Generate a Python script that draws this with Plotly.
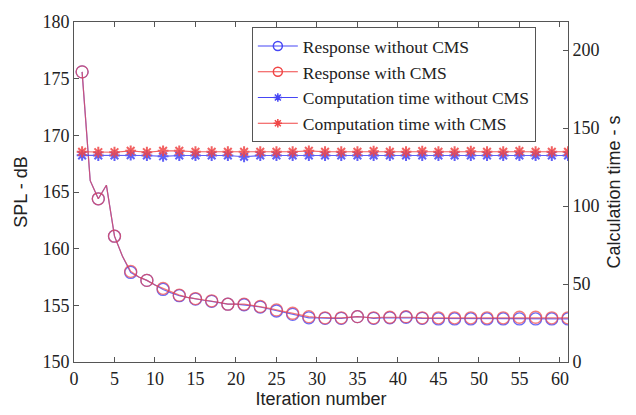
import plotly.graph_objects as go

# ---- data ----
iterations = list(range(1, 62))

spl_with_cms = [
    175.6, 166.0, 164.4, 165.6, 161.1, 159.3, 158.0, 157.5, 157.2, 156.8,
    156.5, 156.2, 155.9, 155.7, 155.6, 155.5, 155.4, 155.25, 155.1, 155.1,
    155.1, 155.0, 154.9, 154.75, 154.6, 154.45, 154.3, 154.15, 154.0, 153.95,
    153.9, 153.9, 153.9, 153.95, 154.0, 153.95, 153.9, 153.95, 153.95, 154.0,
    154.0, 153.95, 153.9, 153.9, 153.9, 153.9, 153.9, 153.9, 153.9, 153.9,
    153.9, 153.9, 153.9, 153.9, 153.95, 153.95, 153.95, 153.9, 153.9, 153.9,
    153.9,
]
spl_without_cms = [
    175.6, 166.0, 164.4, 165.6, 161.1, 159.3, 157.9, 157.5, 157.2, 156.8,
    156.4, 156.1, 155.85, 155.7, 155.55, 155.45, 155.35, 155.2, 155.1, 155.1,
    155.05, 154.95, 154.85, 154.7, 154.5, 154.35, 154.2, 154.05, 153.9, 153.9,
    153.85, 153.85, 153.85, 153.9, 154.0, 153.95, 153.85, 153.9, 153.9, 153.95,
    153.95, 153.9, 153.85, 153.85, 153.8, 153.8, 153.8, 153.8, 153.8, 153.8,
    153.8, 153.8, 153.8, 153.8, 153.8, 153.8, 153.8, 153.8, 153.8, 153.8,
    153.8,
]

time_iterations = list(range(1, 62, 2))
time_with_cms = [
    134.8, 134.5, 134.5, 135.4, 134.5, 135.4, 135.4, 134.8, 134.8, 134.8,
    134.8, 134.8, 134.8, 134.8, 135.4, 134.8, 134.8, 134.8, 135.2, 134.8,
    134.8, 135.2, 134.8, 134.8, 135.2, 134.8, 134.8, 135.2, 134.8, 134.8,
    134.8,
]
time_without_cms = [
    132.5, 132.4, 132.4, 132.6, 132.4, 131.9, 132.4, 132.4, 132.4, 132.4,
    131.6, 132.4, 132.4, 132.4, 132.4, 132.4, 132.4, 132.4, 132.4, 132.4,
    132.4, 132.4, 132.4, 132.4, 132.4, 132.4, 132.4, 132.4, 132.4, 132.4,
    132.4,
]

x_ticks = list(range(0, 61, 5))
y_ticks = list(range(150, 181, 5))
y2_ticks = list(range(0, 201, 50))

BLUE = "rgb(70,70,245)"
RED = "rgb(240,70,70)"
SERIF = "Liberation Serif, Times New Roman, serif"
SANS = "Liberation Sans, Arial, sans-serif"

odd_idx = [i for i in range(len(iterations)) if iterations[i] % 2 == 1]

fig = go.Figure()

# computation time (right axis)
for vals, col in [(time_without_cms, BLUE), (time_with_cms, RED)]:
    fig.add_trace(go.Scatter(
        x=time_iterations, y=vals, yaxis="y2", mode="lines+markers",
        line=dict(color=col, width=1.2), opacity=0.85,
        marker=dict(symbol="asterisk-open", size=9, color=col,
                    line=dict(color=col, width=2)),
        showlegend=False, hoverinfo="skip"))

# response curves (left axis)
for vals, col, op in [(spl_without_cms, BLUE, 0.8), (spl_with_cms, RED, 0.7)]:
    fig.add_trace(go.Scatter(
        x=iterations, y=vals, mode="lines",
        line=dict(color=col, width=1.2), opacity=op,
        showlegend=False, hoverinfo="skip"))
    fig.add_trace(go.Scatter(
        x=[iterations[i] for i in odd_idx], y=[vals[i] for i in odd_idx],
        mode="markers", opacity=op,
        marker=dict(symbol="circle-open", size=12, color=col,
                    line=dict(color=col, width=1.3)),
        showlegend=False, hoverinfo="skip"))

# legend entries
legend_items = [
    ("Response without CMS", BLUE, "circle-open", 9),
    ("Response with CMS", RED, "circle-open", 9),
    ("Computation time without CMS", BLUE, "asterisk-open", 7),
    ("Computation time with CMS", RED, "asterisk-open", 7),
]
for name, col, sym, sz in legend_items:
    fig.add_trace(go.Scatter(
        x=[None], y=[None], mode="lines+markers", name=name,
        line=dict(color=col, width=1.2),
        marker=dict(symbol=sym, size=sz, color=col, line=dict(color=col, width=1.5))))

axis_common = dict(
    showline=True, linecolor="#555555", linewidth=1,
    ticks="inside", ticklen=5, tickcolor="#555555",
    showgrid=False, zeroline=False,
    tickfont=dict(family=SERIF, size=18, color="#222222"),
)
title_font = dict(family=SANS, size=18, color="#222222")

fig.update_layout(
    width=636, height=415,
    margin=dict(l=74, r=68, t=17, b=53),
    paper_bgcolor="white", plot_bgcolor="white",
    xaxis=dict(range=[0, 61], tickvals=x_ticks, mirror="ticks",
               title=dict(text="Iteration number", font=title_font, standoff=2),
               **axis_common),
    yaxis=dict(range=[150, 180], tickvals=y_ticks,
               title=dict(text="SPL - dB", font=title_font, standoff=10),
               **axis_common),
    yaxis2=dict(range=[0, 218], tickvals=y2_ticks, overlaying="y", side="right",
                title=dict(text="Calculation time - s", font=title_font, standoff=8),
                **axis_common),
    legend=dict(x=0.36, y=0.985, xanchor="left", yanchor="top",
                bordercolor="#555555", borderwidth=1, bgcolor="white",
                font=dict(family=SERIF, size=17.5, color="#222222"),
                tracegroupgap=0, itemwidth=40),
)

fig.write_html("out.html",
               config={"displayModeBar": False},
               post_script="document.body.style.margin='0';document.body.style.overflow='hidden';")
